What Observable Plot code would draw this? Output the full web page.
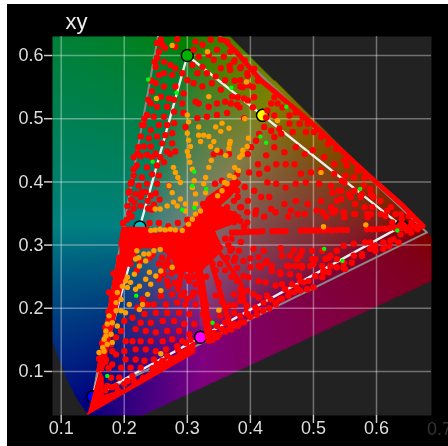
<!DOCTYPE html>
<html>
<head>
<meta charset="utf-8">
<style>
html,body{margin:0;padding:0;background:#fff;overflow:hidden}
body{padding:4px 0 0 7px}
svg{display:block;background:#000;filter:blur(.45px)}
</style>
<script src="https://cdn.jsdelivr.net/npm/d3@7"></script>
<script src="https://cdn.jsdelivr.net/npm/@observablehq/plot@0.6"></script>
</head>
<body>
<script>
const tickValues = [0.1,0.2,0.3,0.4,0.5,0.6];
const spectralLocus = [[.1733,.0048],[.1714,.0051],[.1689,.0069],[.1644,.0109],[.1566,.0177],[.1440,.0297],[.1241,.0578],[.1096,.0868],[.0913,.1327],[.0687,.2007],[.0454,.2950],[.0082,.5384],[.0139,.7502],[.0743,.8338],[.1547,.8059],[.2296,.7543],[.3016,.6923],[.3373,.6589],[.3731,.6245],[.4441,.5547],[.5125,.4866],[.5752,.4242],[.6270,.3725],[.6658,.3340],[.6915,.3083],[.7079,.2920],[.7260,.2740],[.7347,.2653]];
const srgbTriangle = [[.64,.33],[.3,.6],[.15,.06],[.64,.33]];
const wideTriangle = [[.68,.32],[.268,.71],[.15,.06],[.68,.32]];
const primaryColors = ["#00b400","#00c0c0","#0000ff","#ff0000","#ffff00","#ff00ff"];
const primaryX = [.3,.2247,.15,.64,.4193,.3209];
const primaryY = [.6,.3287,.06,.33,.5053,.1542];

const redCore = [[.192,.300],[.197,.328],[.239,.327],[.247,.317],[.289,.323],[.300,.332],[.318,.349],[.332,.375],[.352,.389],[.376,.405],[.384,.399],[.368,.378],[.350,.362],[.384,.346],[.368,.333],[.342,.323],[.352,.301],[.347,.285],[.321,.259],[.284,.259],[.276,.280],[.257,.296],[.226,.296],[.200,.262],[.194,.262]];
const redLowerBand = [[.142,.033],[.311,.130],[.311,.146],[.282,.125],[.240,.098],[.203,.072],[.166,.061],[.166,.090],[.160,.101]];
const redLeftBand = [[.157,.100],[.189,.275],[.205,.275],[.192,.217],[.174,.138],[.166,.101]];
const redOuterEdge = [[.359,.624],[.380,.603],[.417,.560],[.443,.539],[.496,.494],[.544,.450],[.591,.407],[.639,.365],[.665,.339],[.674,.330]];
const redWideRay = [[.310,.300],[.322,.240],[.335,.150]];
const redRayB = [[.330,.300],[.345,.250],[.370,.165]];
const redRayC = [[.350,.290],[.385,.240],[.395,.190]];
const redRayD = [[.300,.300],[.285,.230]];
const redRayE = [[.280,.300],[.255,.245]];
const redRows = [[.371,.320],[.378,.320],[.386,.320],[.392,.321],[.398,.321],[.405,.321],[.412,.321],[.419,.322],[.435,.322],[.441,.322],[.448,.322],[.456,.322],[.480,.323],[.487,.323],[.494,.323],[.501,.323],[.508,.323],[.516,.323],[.523,.324],[.530,.323],[.538,.324],[.546,.324],[.553,.324],[.585,.325],[.592,.325],[.600,.325],[.607,.326],[.614,.326],[.621,.327],[.630,.327],[.638,.328],[.646,.328],[.654,.329],[.662,.329],[.670,.330]];
const redTop = [[.258,.625],[.265,.612],[.255,.606],[.260,.617],[.284,.626],[.281,.614],[.313,.622],[.324,.617],[.337,.625],[.353,.625],[.363,.622],[.252,.596],[.263,.590],[.250,.582],[.273,.585],[.281,.580],[.276,.569],[.263,.572],[.255,.569],[.310,.609],[.318,.598],[.334,.601],[.347,.609],[.342,.593],[.358,.598],[.368,.606],[.374,.590],[.384,.580],[.353,.580],[.324,.582],[.308,.585],[.316,.572],[.331,.572],[.345,.567],[.360,.561],[.368,.577],[.384,.561],[.395,.572],[.310,.556],[.324,.551],[.339,.556],[.353,.546],[.371,.535],[.384,.551],[.397,.553],[.300,.561],[.292,.572],[.294,.540],[.281,.551],[.263,.551],[.250,.556],[.244,.543],[.258,.535],[.271,.532],[.242,.524],[.252,.519],[.268,.519],[.279,.530],[.292,.524],[.313,.527],[.318,.524],[.334,.519],[.347,.524],[.360,.527],[.379,.522],[.390,.532],[.236,.506],[.247,.503],[.263,.503],[.279,.511],[.294,.509],[.316,.501],[.331,.503],[.347,.506],[.363,.509],[.390,.501],[.231,.490],[.242,.482],[.255,.490],[.268,.490],[.279,.493],[.297,.487],[.226,.472],[.239,.469],[.252,.472],[.265,.474],[.276,.477],[.231,.456],[.242,.456],[.260,.461],[.276,.461],[.281,.448],[.221,.445],[.236,.443],[.250,.445],[.268,.448]];
const redUpperRight = [[.391,.592],[.406,.579],[.396,.568],[.412,.560],[.385,.582],[.375,.592],[.367,.584],[.404,.550],[.388,.550],[.375,.560],[.406,.534],[.396,.529],[.380,.534],[.369,.524],[.383,.518],[.404,.518],[.438,.534],[.433,.524],[.443,.524],[.451,.518],[.427,.513],[.425,.502],[.438,.505],[.462,.505],[.472,.510],[.483,.502],[.491,.492],[.478,.492],[.462,.492],[.446,.484],[.433,.481],[.438,.471],[.449,.476],[.467,.479],[.488,.479],[.501,.479],[.512,.471],[.523,.460],[.536,.452],[.414,.476],[.422,.487],[.409,.465],[.401,.455],[.396,.444],[.412,.428],[.425,.442],[.438,.455],[.454,.447],[.472,.455],[.486,.444],[.499,.450],[.517,.439],[.533,.428],[.549,.434],[.570,.418],[.581,.407],[.414,.413],[.398,.415],[.427,.421],[.441,.428],[.456,.428],[.470,.428],[.480,.413],[.496,.415],[.512,.418],[.533,.413],[.549,.399],[.565,.386],[.575,.376],[.591,.381],[.607,.349],[.623,.360],[.639,.349],[.391,.392],[.406,.386],[.427,.399],[.441,.397],[.456,.391],[.472,.397],[.488,.399],[.509,.397],[.528,.394],[.544,.386],[.559,.376],[.581,.360],[.591,.349],[.380,.376],[.396,.370],[.417,.376],[.430,.376],[.454,.365],[.472,.370],[.491,.365],[.512,.370],[.528,.360],[.544,.373],[.565,.349],[.586,.344],[.385,.360],[.409,.355],[.433,.357],[.464,.355],[.486,.349],[.515,.352],[.533,.352],[.549,.344],[.374,.336],[.384,.338],[.395,.336],[.408,.349],[.374,.349],[.395,.352],[.422,.345],[.440,.352],[.460,.345],[.475,.349],[.505,.355],[.520,.345],[.535,.355],[.553,.426],[.564,.407],[.551,.410],[.545,.402],[.580,.394],[.577,.381],[.590,.389],[.595,.376],[.606,.370],[.593,.360],[.585,.349],[.617,.354],[.614,.346],[.630,.349],[.640,.341],[.651,.346],[.656,.336],[.625,.336],[.566,.365],[.566,.349],[.548,.352],[.530,.352],[.537,.370],[.556,.381],[.540,.386],[.530,.383]];
const redLowerRight = [[.371,.294],[.382,.291],[.405,.294],[.421,.291],[.448,.295],[.469,.292],[.482,.291],[.498,.291],[.514,.291],[.537,.291],[.400,.279],[.413,.281],[.450,.283],[.463,.283],[.479,.283],[.498,.278],[.527,.283],[.416,.265],[.434,.259],[.448,.254],[.458,.267],[.471,.267],[.482,.267],[.519,.278],[.389,.275],[.376,.280],[.400,.265],[.426,.275],[.474,.278],[.500,.270],[.516,.259],[.482,.265],[.495,.267],[.503,.278],[.514,.267],[.524,.280],[.527,.267],[.537,.278],[.537,.291],[.548,.299],[.564,.302],[.582,.304],[.590,.304],[.598,.299],[.611,.304],[.622,.307],[.638,.317],[.648,.323],[.524,.257],[.537,.265],[.548,.272],[.550,.262],[.564,.283],[.577,.286],[.590,.294],[.598,.291],[.611,.294],[.627,.309],[.484,.241],[.492,.243],[.503,.251],[.516,.257],[.514,.249],[.548,.265],[.561,.272],[.577,.283],[.500,.233],[.490,.230],[.479,.228],[.635,.304],[.655,.320],[.665,.325],[.620,.298],[.413,.267],[.424,.272],[.434,.267],[.461,.267],[.479,.267],[.447,.257],[.463,.254],[.477,.251],[.413,.243],[.424,.241],[.440,.236],[.450,.238],[.466,.238],[.479,.243],[.474,.233],[.389,.251],[.397,.249],[.379,.243],[.384,.230],[.395,.228],[.405,.222],[.413,.217],[.374,.222],[.384,.212],[.395,.204],[.410,.199],[.432,.214],[.440,.209],[.447,.214],[.421,.209],[.426,.220],[.463,.225],[.455,.230],[.366,.204],[.374,.193],[.384,.188],[.395,.191],[.408,.201],[.352,.188],[.360,.177],[.374,.175],[.384,.177],[.347,.172],[.342,.161],[.355,.167],[.366,.167],[.337,.154],[.347,.154]];
const redLowerLeft = [[.263,.254],[.274,.265],[.284,.259],[.297,.267],[.305,.259],[.268,.243],[.287,.238],[.303,.243],[.313,.238],[.258,.220],[.276,.222],[.295,.225],[.308,.220],[.247,.206],[.266,.206],[.284,.209],[.297,.206],[.313,.206],[.237,.206],[.232,.191],[.250,.193],[.268,.193],[.287,.193],[.303,.191],[.226,.177],[.242,.177],[.261,.180],[.279,.180],[.295,.175],[.311,.175],[.218,.167],[.234,.164],[.250,.162],[.268,.164],[.287,.164],[.303,.159],[.213,.148],[.226,.148],[.242,.148],[.261,.148],[.276,.151],[.292,.148],[.218,.135],[.234,.135],[.250,.132],[.266,.135],[.284,.140],[.200,.132],[.202,.119],[.218,.119],[.232,.117],[.247,.119],[.261,.117],[.187,.127],[.181,.111],[.195,.106],[.210,.106],[.226,.106],[.192,.090],[.179,.090],[.173,.077],[.187,.077],[.205,.085],[.213,.093],[.179,.143],[.187,.154],[.195,.164],[.200,.180],[.213,.185],[.221,.201],[.229,.214],[.202,.148],[.171,.119],[.181,.132],[.245,.285],[.260,.280],[.270,.270],[.255,.270],[.285,.280],[.300,.275],[.290,.270],[.310,.290]];
const redMiddle = [[.215,.439],[.226,.441],[.244,.439],[.257,.439],[.273,.444],[.220,.426],[.236,.423],[.252,.426],[.263,.431],[.215,.410],[.228,.407],[.244,.412],[.255,.410],[.210,.397],[.223,.394],[.236,.397],[.252,.397],[.271,.394],[.207,.383],[.342,.444],[.352,.447],[.366,.444],[.344,.397],[.355,.402],[.379,.412],[.374,.370],[.363,.360],[.384,.360],[.379,.386],[.352,.296],[.368,.291],[.363,.280],[.374,.275],[.352,.270],[.379,.264]];
const redLeftEdge = [[.208,.385],[.212,.400],[.215,.420],[.222,.455],[.228,.490],[.232,.500],[.238,.530],[.243,.560],[.248,.590],[.252,.620],[.160,.120],[.165,.145],[.170,.170],[.175,.195],[.180,.215],[.185,.240],[.190,.260],[.192,.280],[.176,.225],[.183,.255]];
const redCluster = [[.205,.362],[.211,.372],[.218,.381],[.226,.376],[.234,.384],[.242,.378],[.250,.382],[.256,.372],[.247,.364],[.237,.370],[.226,.362],[.215,.358],[.208,.350],[.216,.368],[.244,.356],[.204,.340],[.198,.335],[.212,.345],[.238,.358],[.228,.384]];
const redLowerJagged = [[.170,.070],[.180,.075],[.190,.070],[.200,.080],[.215,.085],[.230,.090],[.245,.105],[.260,.115],[.275,.120],[.290,.130],[.305,.150],[.175,.105],[.170,.115],[.165,.125],[.340,.150],[.350,.158],[.360,.163],[.370,.168],[.380,.172],[.390,.178],[.400,.186],[.410,.190],[.420,.196],[.430,.200],[.440,.206],[.450,.215],[.460,.220],[.470,.226],[.298,.145],[.285,.135],[.268,.125],[.252,.112]];
const redNearCore = [[.360,.350],[.370,.345],[.380,.340],[.360,.310],[.370,.310],[.385,.305],[.365,.300],[.340,.270],[.345,.260],[.330,.250],[.360,.260],[.370,.250],[.350,.240],[.390,.330],[.355,.335],[.345,.345],[.340,.355],[.330,.360],[.345,.375],[.360,.390],[.325,.365],[.300,.340],[.285,.335],[.270,.330],[.255,.335],[.240,.335],[.290,.255],[.275,.255],[.265,.270],[.240,.280],[.225,.275],[.210,.270],[.220,.260],[.300,.250],[.310,.250],[.320,.225],[.330,.205],[.335,.180],[.310,.225],[.325,.190],[.345,.220],[.355,.210],[.365,.185],[.375,.205],[.385,.220],[.280,.240],[.270,.235],[.290,.220],[.300,.215]];
const orangePoints = [[.276,.616],[.332,.606],[.334,.535],[.251,.532],[.300,.506],[.302,.495],[.300,.477],[.302,.466],[.305,.456],[.300,.448],[.318,.487],[.318,.474],[.326,.474],[.321,.464],[.334,.472],[.342,.464],[.345,.487],[.355,.493],[.353,.480],[.366,.485],[.368,.464],[.366,.453],[.347,.450],[.337,.456],[.395,.456],[.387,.443],[.397,.469],[.278,.423],[.281,.415],[.285,.407],[.289,.399],[.302,.441],[.304,.431],[.308,.420],[.311,.402],[.308,.391],[.313,.381],[.313,.365],[.338,.434],[.334,.423],[.329,.407],[.326,.397],[.329,.383],[.381,.418],[.374,.407],[.363,.397],[.355,.386],[.348,.378],[.271,.394],[.276,.383],[.278,.368],[.268,.362],[.257,.357],[.249,.357],[.289,.373],[.297,.365],[.284,.362],[.297,.354],[.321,.354],[.313,.349],[.308,.341],[.302,.333],[.249,.324],[.257,.325],[.265,.324],[.273,.325],[.281,.324],[.292,.323],[.242,.323],[.257,.293],[.247,.291],[.239,.286],[.231,.286],[.223,.280],[.218,.278],[.234,.275],[.220,.291],[.205,.249],[.197,.235],[.189,.225],[.195,.214],[.187,.209],[.202,.193],[.195,.196],[.187,.196],[.176,.188],[.173,.175],[.181,.177],[.171,.164],[.179,.159],[.168,.151],[.166,.138],[.173,.143],[.160,.130],[.168,.132],[.181,.146],[.171,.156],[.189,.172],[.224,.267],[.216,.254],[.210,.241],[.202,.243],[.240,.257],[.234,.246],[.224,.235],[.218,.230],[.208,.206],[.224,.198],[.229,.206],[.258,.259],[.250,.251],[.242,.238],[.237,.222],[.258,.228],[.276,.265],[.205,.233],[.258,.128],[.394,.558],[.391,.500],[.443,.497],[.367,.460],[.361,.442],[.383,.439],[.375,.423],[.367,.410],[.359,.399],[.388,.450],[.512,.415],[.516,.329],[.583,.332],[.350,.197]];
const greenPoints = [[.238,.562],[.283,.541],[.245,.432],[.311,.416],[.308,.394],[.330,.389],[.292,.356],[.311,.359],[.370,.549],[.457,.519],[.416,.472],[.425,.462],[.219,.220],[.340,.177],[.173,.093],[.633,.323],[.546,.275],[.517,.294],[.574,.389]];
const allRed = [...redRows,...redTop,...redUpperRight,...redLowerRight,...redLowerLeft,...redMiddle,...redLeftEdge,...redCluster,...redLowerJagged,...redNearCore];

function chromaColor(x, y) {
  if (!d3.polygonContains(spectralLocus, [x, y])) return "#222222";
  const X = x / y, Z = (1 - x - y) / y;
  const r = Math.max(0, 3.2406 * X - 1.5372 - 0.4986 * Z);
  const g = Math.max(0, -0.9689 * X + 1.8758 + 0.0415 * Z);
  const b = Math.max(0, 0.0557 * X - 0.2040 + 1.0570 * Z);
  const m = Math.max(r, g, b);
  const k = b === m ? 1 / 1.3 : 1 / 2.2;
  const enc = (v) => Math.round(128 * Math.pow(v / m, k));
  return `rgb(${enc(r)},${enc(g)},${enc(b)})`;
}
const xDomain = [0.0862, 0.6872], yDomain = [0.0303, 0.6301];
const px = (p) => p[0], py = (p) => p[1];
const poly = (a) => Plot.line(a, {x: px, y: py, fill: "#f00", stroke: "#f00", strokeWidth: 2});
const ray = (a, w) => Plot.line(a, {x: px, y: py, stroke: "#f00", strokeWidth: w});

const chart = Plot.plot({
  width: 441, height: 442,
  marginLeft: 45, marginRight: 17, marginTop: 32, marginBottom: 31,
  x: {domain: xDomain}, y: {domain: yDomain},
  color: {type: "identity"},
  style: {background: "#000", fontFamily: "'Liberation Sans', sans-serif", fontSize: "18px", color: "#ddd"},
  marks: [
    Plot.raster({fill: chromaColor, x1: xDomain[0], x2: xDomain[1], y1: yDomain[0], y2: yDomain[1], pixelSize: 1}),
    Plot.gridX(tickValues, {stroke: "#fff", strokeOpacity: 0.36, strokeWidth: 1.5}),
    Plot.gridY(tickValues, {stroke: "#fff", strokeOpacity: 0.36, strokeWidth: 1.5}),
    Plot.axisX({ticks: tickValues, label: null, tickSize: 8, tickPadding: -2, stroke: "#ccc", strokeWidth: 1.5, fill: "#ddd", tickFormat: (d) => d.toFixed(1)}),
    Plot.axisY({ticks: tickValues, label: null, tickSize: 8, tickPadding: 1, stroke: "#ccc", strokeWidth: 1.5, fill: "#ddd", tickFormat: (d) => d.toFixed(1)}),
    Plot.text([0.7], {x: (d) => d, frameAnchor: "bottom", dy: 19, text: (d) => d.toFixed(1), fill: "#333"}),
    Plot.text(["xy"], {frameAnchor: "top-left", dx: 13, dy: -23, text: (d) => d, fill: "#eee", fontSize: 22}),
    Plot.line(wideTriangle, {x: px, y: py, stroke: "#888", strokeWidth: 2, clip: true}),
    Plot.line(srgbTriangle, {x: px, y: py, stroke: "#eee", strokeWidth: 2.4}),
    Plot.dot(primaryX, {x: primaryX, y: primaryY, fill: primaryColors, stroke: "#000", strokeWidth: 1.5, r: 6}),
    poly(redCore), poly(redLowerBand), poly(redLeftBand),
    ray(redOuterEdge, 5), ray(redWideRay, 8), ray(redRayB, 5), ray(redRayC, 4), ray(redRayD, 6), ray(redRayE, 5),
    Plot.dot(allRed, {x: px, y: py, fill: "#f00", r: 3.2}),
    Plot.dot(orangePoints, {x: px, y: py, fill: "#ffa000", r: 2.7}),
    Plot.dot(greenPoints, {x: px, y: py, fill: "#00ff00", r: 2.2})
  ]
});
document.body.appendChild(chart);
</script>
</body>
</html>
